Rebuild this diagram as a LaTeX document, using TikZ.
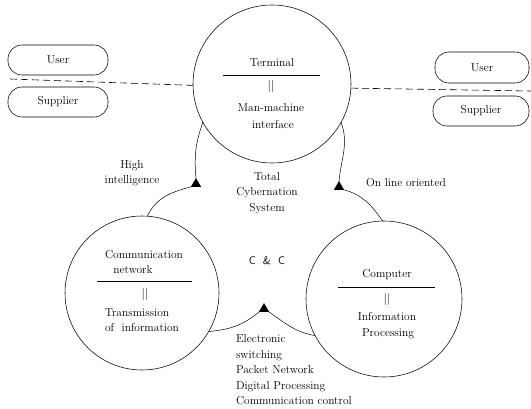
\documentclass[tikz,border=0pt]{standalone}
\usetikzlibrary{shapes.geometric}
\begin{document}
\begin{tikzpicture}[x=1pt,y=1pt,
  font=\fontsize{11.5}{15.5}\selectfont,
  ring/.style={circle,draw,line width=0.55pt,inner sep=0pt,outer sep=0pt},
  pill/.style={draw,line width=0.55pt,rounded corners=14pt,minimum width=98pt,minimum height=29pt,inner sep=0pt},
  tri/.style={regular polygon,regular polygon sides=3,fill=black,draw=black,minimum size=11pt,inner sep=0pt,outer sep=0pt},
  lbl/.style={inner sep=0pt,outer sep=0pt},
  link/.style={line width=0.5pt},
  divider/.style={line width=0.6pt},
  sep/.style={dash pattern=on 7pt off 4pt,line width=0.6pt}]
\useasboundingbox (0,0) rectangle (531,408);

% main circles
\node[ring,minimum size=158pt] (T) at (272,324) {};
\node[ring,minimum size=154pt] (L) at (142,115) {};
\node[ring,minimum size=156pt] (R) at (384,109) {};

% pills
\node[pill,minimum width=100pt,minimum height=30pt] (uL) at (58,348) {User};
\node[pill,minimum width=100pt,minimum height=30pt] (sL) at (58,306) {Supplier};
\node[pill,minimum width=94pt,minimum height=31pt] (uR) at (482,340.5) {User};
\node[pill,minimum width=96pt,minimum height=30pt] (sR) at (481,297) {Supplier};

% dashed separators
\coordinate (dl) at (10,329);
\coordinate (dr) at (531,317);
\draw[sep] (dl) -- (T.181);
\draw[sep] (T.357) -- (dr);

% texts in top circle
\node[lbl] (tTerm) at (272,345) {Terminal};
\draw[divider] (223,333) -- (320,333);
\node[lbl] (tEq) at (271,321) {$||$};
\node[lbl] (tMan) at (271,300) {Man-machine};
\node[lbl] (tInt) at (273,283) {interface};

% texts in left circle
\node[lbl] (lCom) at (144,153) {Communication};
\node[lbl] (lNet) at (133,138) {network};
\draw[divider] (97,127) -- (192,127);
\node[lbl] (lEq) at (145,114) {$||$};
\node[lbl] (lTra) at (137,95) {Transmission};
\node[lbl] (lOf) at (142,80) {of\ \ information};

% texts in right circle
\node[lbl] (rCom) at (387,133) {Computer};
\draw[divider] (338,121) -- (435,121);
\node[lbl] (rEq) at (387,109) {$||$};
\node[lbl] (rInf) at (387,91) {Information};
\node[lbl] (rPro) at (388,74) {Processing};

% triangles
\node[tri] (t1) at (196,224) {};
\node[tri] (t2) at (339,221) {};
\node[tri] (t3) at (264,99) {};

% connecting arcs
\draw[link] (T.209) to[out=250,in=95] (t1.corner 1);
\draw[link] (t1.corner 2) to[out=195,in=65] (L.86);
\draw[link] (T.331) to[out=290,in=85] (t2.corner 1);
\draw[link] (t2.corner 3) to[out=-15,in=125] (R.91);
\draw[link] (L.-30) to[out=5,in=220] (t3.corner 2);
\draw[link] (t3.corner 3) to[out=-35,in=170] (R.208);

% labels
\node[lbl,align=center] (hi) at (132,235) {High\\intelligence};
\node[lbl,align=center] (tcs) at (267,215) {Total\\Cybernation\\System};
\node[lbl,anchor=west] (olo) at (366,225) {On\ line\ oriented};
\node[lbl,font=\sffamily\fontsize{11}{13}\selectfont] (cc) at (267,147) {C\ \ \&\ \ C};
\node[lbl,anchor=north west,align=left] (es) at (236,73) {Electronic\\switching\\Packet\ Network\\Digital\ Processing\\Communication\ control};
\end{tikzpicture}
\end{document}
